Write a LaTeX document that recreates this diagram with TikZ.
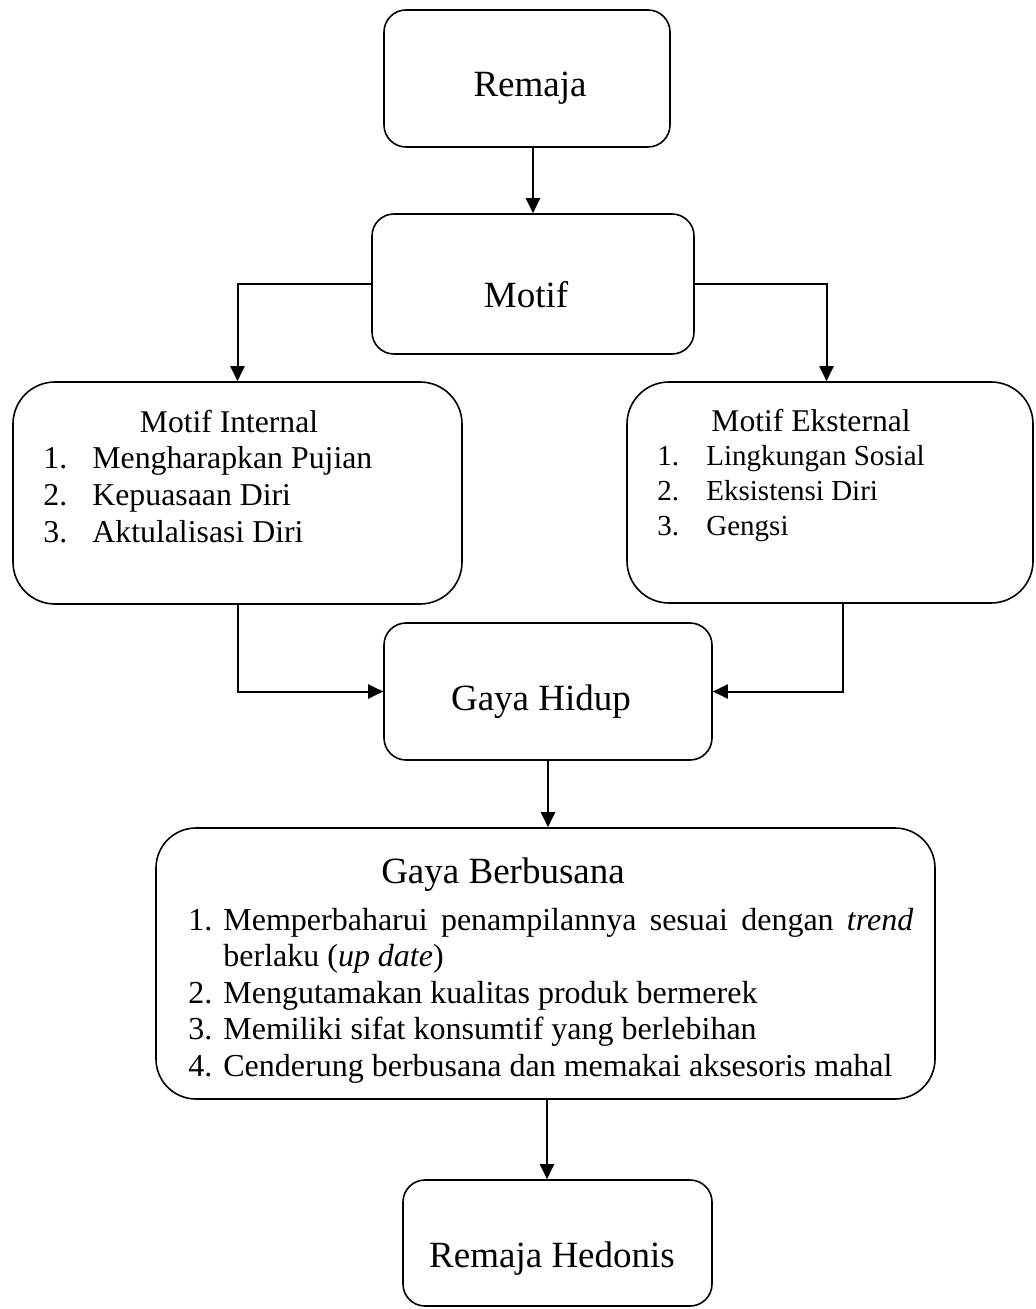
\documentclass[tikz,border=0pt]{standalone}
\usepackage{fontspec}
\setmainfont{Liberation Serif}
\usetikzlibrary{arrows.meta}
\begin{document}
\begin{tikzpicture}[x=0.5pt,y=-0.5pt,
  box/.style={draw, line width=0.8pt, inner sep=0pt, rounded corners=#1},
  box/.default=11pt,
  arr/.style={line width=1pt, -{Triangle[length=7.5pt,width=7pt]}},
  big/.style={anchor=base, inner sep=0pt, font=\fontsize{18.5}{22}\selectfont},
  ttl/.style={anchor=base, inner sep=0pt, font=\fontsize{15.8}{19}\selectfont},
  itmA/.style={anchor=base west, inner sep=0pt, font=\fontsize{15.9}{19}\selectfont},
  itmB/.style={anchor=base west, inner sep=0pt, font=\fontsize{14.5}{17}\selectfont},
  itmC/.style={anchor=base west, inner sep=0pt, font=\fontsize{16}{19}\selectfont}]
\useasboundingbox (0,0) rectangle (1035,1309);

% boxes
\node[box, minimum width=143pt, minimum height=68.5pt] (remaja) at (527,78.5) {};
\node[box, minimum width=161pt, minimum height=70pt] (motif) at (533,284) {};
\node[box=21pt, minimum width=224.5pt, minimum height=111pt] (internal) at (237.5,493) {};
\node[box=21pt, minimum width=203pt, minimum height=110.5pt] (eksternal) at (830,492.5) {};
\node[box, minimum width=164pt, minimum height=68.5pt] (hidup) at (548,691.5) {};
\node[box=20pt, minimum width=389.5pt, minimum height=135.5pt] (busana) at (545.5,963.5) {};
\node[box, minimum width=154.5pt, minimum height=63pt] (hedonis) at (557.5,1243) {};

% labels
\node[big] (tRemaja) at (530,97) {Remaja};
\node[big] (tMotif) at (526,308) {Motif};
\node[big] (tHidup) at (541,710) {Gaya Hidup};
\node[big] (tHedonis) at (552,1267) {Remaja Hedonis};
\node[big] (tBusana) at (503,883) {Gaya Berbusana};

\node[ttl] (tInt) at (229,433) {Motif Internal};
\node[itmA] (i1n) at (43,469) {1.};
\node[itmA] (i1) at (92,469) {Mengharapkan Pujian};
\node[itmA] (i2n) at (43,505.5) {2.};
\node[itmA] (i2) at (92,505.5) {Kepuasaan Diri};
\node[itmA] (i3n) at (43,542) {3.};
\node[itmA] (i3) at (92,542) {Aktulalisasi Diri};

\node[ttl] (tEks) at (811,432) {Motif Eksternal};
\node[itmB] (e1n) at (657,466) {1.};
\node[itmB] (e1) at (706,466) {Lingkungan Sosial};
\node[itmB] (e2n) at (657,500.5) {2.};
\node[itmB] (e2) at (706,500.5) {Eksistensi Diri};
\node[itmB] (e3n) at (657,535) {3.};
\node[itmB] (e3) at (706,535) {Gengsi};

\node[itmC] (b1n) at (188,930) {1.};
\node[itmC] (b1) at (223,930) {\makebox[345pt][s]{Memperbaharui\hfill penampilannya\hfill sesuai\hfill dengan\hfill \textit{trend}}};
\node[itmC] (b1b) at (223,966.5) {berlaku (\textit{up date})};
\node[itmC] (b2n) at (188,1003) {2.};
\node[itmC] (b2) at (223,1003) {Mengutamakan kualitas produk bermerek};
\node[itmC] (b3n) at (188,1039.5) {3.};
\node[itmC] (b3) at (223,1039.5) {Memiliki sifat konsumtif yang berlebihan};
\node[itmC] (b4n) at (188,1076) {4.};
\node[itmC] (b4) at (223,1076) {Cenderung berbusana dan memakai aksesoris mahal};

% connectors
\draw[arr] (motif.north |- remaja.south) -- (motif.north);
\draw[arr] (motif.west) -| (internal.north);
\draw[arr] (motif.east) -| ([xshift=-1.75pt]eksternal.north);
\draw[arr] (internal.south) |- (hidup.west);
\draw[arr] ([xshift=6.5pt]eksternal.south) |- (hidup.east);
\draw[arr] (hidup.south) -- (hidup.south |- busana.north);
\draw[arr] ([xshift=0.75pt]busana.south) -- ([xshift=0.75pt]busana.south |- hedonis.north);
\end{tikzpicture}
\end{document}
